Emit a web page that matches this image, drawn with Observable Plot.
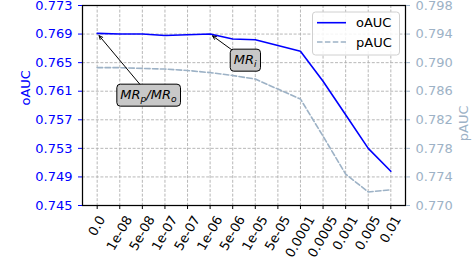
<!DOCTYPE html>
<html><head><meta charset="utf-8">
<script src="https://cdn.jsdelivr.net/npm/d3@7"></script>
<script src="https://cdn.jsdelivr.net/npm/@observablehq/plot@0.6"></script>
<style>
body{margin:0;background:#fff;}
#chart svg{font-family:"DejaVu Sans";display:block;}
</style>
</head><body><div id="chart"></div>
<script>
// ---- data ----
const lambdaLabels = ["0.0","1e-08","5e-08","1e-07","5e-07","1e-06","5e-06","1e-05","5e-05","0.0001","0.0005","0.001","0.005","0.01"];
const oAUC = [0.7691,0.7690,0.7690,0.7688,0.7689,0.7690,0.7683,0.7682,0.7674,0.7666,0.7624,0.7577,0.7530,0.7498];
const pAUC = [0.7893,0.7893,0.7892,0.7891,0.7889,0.7886,0.7882,0.7877,0.7863,0.7849,0.7797,0.7744,0.7719,0.7722];
const leftTicks = [0.745,0.749,0.753,0.757,0.761,0.765,0.769,0.773];
const rightOffset = 0.025; // right (pAUC) axis = left axis + 0.025
const annLabels = ["MR_p/MR_o","MR_i"];
const annX = [2.27, 6.55];
const annY = [0.76054, 0.76544];
const annTarget = [0, 5];

const blue = "#0000ff";
const pColor = "#9db2c6";

const idx = d3.range(lambdaLabels.length);
const rows = idx.map(i => ({i, o: oAUC[i], p: pAUC[i] - rightOffset}));
const annIdx = d3.range(annLabels.length);

const chart = Plot.plot({
  width: 472, height: 265,
  marginLeft: 82, marginRight: 67, marginTop: 5, marginBottom: 60,
  style: {fontFamily: "DejaVu Sans", fontSize: "13px", background: "#fff", overflow: "visible"},
  x: {type: "linear", domain: [-0.65, 13.65]},
  y: {domain: [0.745, 0.773]},
  marks: [
    Plot.gridX(idx, {stroke: "#b0b0b0", strokeOpacity: 1, strokeDasharray: "3,1.6", strokeWidth: 0.9}),
    Plot.gridY(leftTicks, {stroke: "#b0b0b0", strokeOpacity: 1, strokeDasharray: "3,1.6", strokeWidth: 0.9}),
    Plot.line(rows, {x: "i", y: "p", stroke: pColor, strokeWidth: 1.6, strokeDasharray: "5.5,2.4"}),
    Plot.line(rows, {x: "i", y: "o", stroke: blue, strokeWidth: 1.6}),
    Plot.frame({stroke: "black", strokeWidth: 1.25}),
    Plot.axisY(leftTicks, {anchor: "left", color: blue, tickSize: 4, tickPadding: 6, fontSize: 13, tickFormat: d => d.toFixed(3), label: null}),
    Plot.axisY(leftTicks, {anchor: "right", color: pColor, tickSize: 4, tickPadding: 6, fontSize: 13, tickFormat: d => (d + rightOffset).toFixed(3), label: null}),
    Plot.axisX(idx, {anchor: "bottom", tickSize: 4, tickPadding: 4, tickRotate: -60, fontSize: 13, tickFormat: i => lambdaLabels[i], label: null}),
    Plot.text(["oAUC"], {text: d => d, frameAnchor: "left", dx: -57, rotate: -90, fill: blue, fontSize: 13}),
    Plot.text(["pAUC"], {text: d => d, frameAnchor: "right", dx: 58, rotate: -90, fill: pColor, fontSize: 13}),
    Plot.arrow(annIdx, {x1: i => annX[i], y1: i => annY[i], x2: i => annTarget[i], y2: i => oAUC[annTarget[i]],
      stroke: "black", strokeWidth: 1, headLength: 6, headAngle: 50, insetEnd: 3}),
    Plot.text(annIdx, {x: i => annX[i], y: i => annY[i], text: i => annLabels[i], ariaDescription: "annotation",
      fontStyle: "italic", fontSize: 13, fill: "black"})
  ]
});
document.getElementById("chart").append(chart);
const svg = chart;
const sr = () => svg.getBoundingClientRect();

// x tick labels: matplotlib-like center alignment of rotated labels
const xs = d3.scaleLinear().domain([-0.65, 13.65]).range([82, 405]);
const xg = svg.querySelector('g[aria-label="x-axis tick label"]');
if (xg) {
  const texts = Array.from(xg.querySelectorAll("text"));
  texts.forEach((t, k) => {
    t.setAttribute("text-anchor", "middle");
    const r = t.getBoundingClientRect(), s = sr();
    const cx = r.x + r.width / 2 - s.x, top = r.y - s.y;
    const dx = xs(idx[k]) - cx, dy = 213 - top;
    t.setAttribute("transform", `translate(${dx},${dy}) ` + (t.getAttribute("transform") || ""));
  });
}

// annotations: subscripts and rounded boxes
const ag = svg.querySelector('g[aria-description="annotation"]');
if (ag) {
  Array.from(ag.querySelectorAll("text")).forEach(t => {
    const src = t.textContent;
    while (t.firstChild) t.removeChild(t.firstChild);
    const parts = src.split(/(_\w)/).filter(p => p.length);
    let shifted = false;
    parts.forEach(p => {
      const ts = document.createElementNS("http://www.w3.org/2000/svg", "tspan");
      if (p.startsWith("_")) {
        ts.textContent = p.slice(1);
        ts.setAttribute("font-size", "9.1");
        ts.setAttribute("dy", shifted ? "0" : "3");
        shifted = true;
      } else {
        ts.textContent = p;
        if (shifted) { ts.setAttribute("dy", "-3"); shifted = false; }
      }
      t.appendChild(ts);
    });
    const bb = t.getBBox();
    const rect = document.createElementNS("http://www.w3.org/2000/svg", "rect");
    rect.setAttribute("x", bb.x - 3.5);
    rect.setAttribute("y", bb.y - 2.5);
    rect.setAttribute("width", bb.width + 7);
    rect.setAttribute("height", bb.height + 5);
    rect.setAttribute("rx", 3.5);
    rect.setAttribute("fill", "#c8c8c8");
    rect.setAttribute("stroke", "black");
    rect.setAttribute("stroke-width", 1);
    if (t.getAttribute("transform")) rect.setAttribute("transform", t.getAttribute("transform"));
    t.parentNode.insertBefore(rect, t);
  });
}

// legend
const lg = d3.select(svg).append("g").attr("font-family", "DejaVu Sans").attr("font-size", 13).attr("text-anchor", "start");
lg.append("rect").attr("x", 312.5).attr("y", 12).attr("width", 87).attr("height", 43).attr("rx", 3)
  .attr("fill", "white").attr("fill-opacity", 0.85).attr("stroke", "#d0d0d0");
const legendItems = [{name: "oAUC", color: blue, dash: null}, {name: "pAUC", color: pColor, dash: "5.5,2.4"}];
legendItems.forEach((it, k) => {
  const y = 22.7 + k * 19.3;
  const l = lg.append("line").attr("x1", 317).attr("x2", 346).attr("y1", y).attr("y2", y)
    .attr("stroke", it.color).attr("stroke-width", 1.6);
  if (it.dash) l.attr("stroke-dasharray", it.dash);
  lg.append("text").attr("x", 356).attr("y", y).attr("dy", "0.36em").attr("fill", "black").attr("text-anchor", "start").text(it.name);
});
</script>
</body></html>
